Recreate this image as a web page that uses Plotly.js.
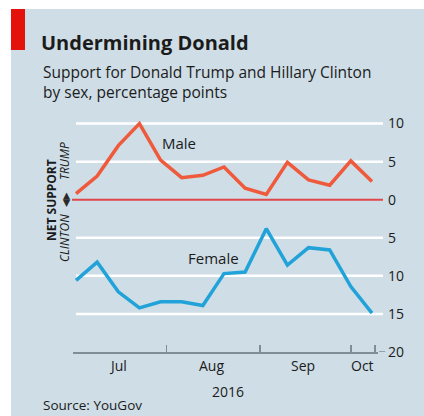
<!DOCTYPE html>
<html><head><meta charset="utf-8">
<script src="https://cdn.plot.ly/plotly-3.0.1.min.js"></script>
<style>html,body{margin:0;padding:0;background:#fff;}#chart{width:424px;height:416px;}</style>
</head><body><div id="chart"></div>
<script>
// ---- data ----
const weeks = ['2016-07-02','2016-07-09','2016-07-16','2016-07-23','2016-07-30','2016-08-06','2016-08-13','2016-08-20','2016-08-27','2016-09-03','2016-09-10','2016-09-17','2016-09-24','2016-10-01','2016-10-08'];
const male   = [0.8, 3.1, 7.1, 10.0, 5.2, 2.9, 3.2, 4.3, 1.5, 0.7, 4.9, 2.6, 1.9, 5.1, 2.4];
const female = [-10.6, -8.2, -12.1, -14.2, -13.4, -13.4, -13.9, -9.7, -9.5, -3.8, -8.6, -6.3, -6.6, -11.4, -14.9];
const yTickVals = [10, 5, 0, -5, -10, -15, -20];
const yTickText = ['10', '5', '0', '5', '10', '15', '20'];
const gridVals = [10, 5, -5, -10, -15];
const monthStarts = ['2016-07-01','2016-08-01','2016-09-01','2016-10-01','2016-10-09'];
const monthLabelDates = ['2016-07-16','2016-08-16','2016-09-15','2016-10-05'];
const monthLabels = ['Jul','Aug','Sep','Oct'];

// ---- layout geometry ----
const WID = 424, HEI = 416;
const M = {l: 73, r: 46, t: 119, b: 64};
const PW = WID - M.l - M.r, PH = HEI - M.t - M.b;
const px = x => (x - M.l) / PW;
const py = y => (HEI - M.b - y) / PH;

const FONT = '"Open Sans", "Noto Sans", sans-serif';
const TXT = '#1b1b1b';
const BG = '#cedde6';
const AXIS = '#7f8d96';

const traces = [
  {x: weeks, y: male, type: 'scatter', mode: 'lines', name: 'Male',
   line: {color: '#ef5a3c', width: 3.5}, hoverinfo: 'x+y'},
  {x: weeks, y: female, type: 'scatter', mode: 'lines', name: 'Female',
   line: {color: '#21a3d9', width: 3.5}, hoverinfo: 'x+y'}
];

const annotations = [
  {text: 'Support for Donald Trump and Hillary Clinton<br>by sex, percentage points',
   xref: 'paper', yref: 'paper', x: px(41), y: py(82), xanchor: 'left', yanchor: 'middle',
   align: 'left', showarrow: false, font: {family: FONT, size: 15.5, color: TXT}},
  {text: 'Male', xref: 'paper', yref: 'paper', x: px(179), y: py(143), showarrow: false,
   xanchor: 'center', yanchor: 'middle', font: {family: FONT, size: 15, color: TXT}},
  {text: 'Female', xref: 'paper', yref: 'paper', x: px(213), y: py(258), showarrow: false,
   xanchor: 'center', yanchor: 'middle', font: {family: FONT, size: 15, color: TXT}},
  {text: '2016', xref: 'paper', yref: 'paper', x: px(228), y: py(391), showarrow: false,
   xanchor: 'center', yanchor: 'middle', font: {family: FONT, size: 14, color: TXT}},
  {text: 'Source: YouGov', xref: 'paper', yref: 'paper', x: px(41), y: py(405), showarrow: false,
   xanchor: 'left', yanchor: 'middle', font: {family: FONT, size: 13.5, color: TXT}},
  {text: '<b>NET SUPPORT</b>', textangle: -90, xref: 'paper', yref: 'paper', x: px(51), y: py(200),
   showarrow: false, xanchor: 'center', yanchor: 'middle', font: {family: FONT, size: 12, color: TXT}},
  {text: '<i>TRUMP</i>', textangle: -90, xref: 'paper', yref: 'paper', x: px(64), y: py(161),
   showarrow: false, xanchor: 'center', yanchor: 'middle', font: {family: FONT, size: 12, color: TXT}},
  {text: '<i>CLINTON</i>', textangle: -90, xref: 'paper', yref: 'paper', x: px(64), y: py(238),
   showarrow: false, xanchor: 'center', yanchor: 'middle', font: {family: FONT, size: 12, color: TXT}},
  {text: '\u25C0\u25B6', textangle: -90, xref: 'paper', yref: 'paper', x: px(65), y: py(200),
   showarrow: false, xanchor: 'center', yanchor: 'middle', font: {family: 'DejaVu Sans', size: 9.5, color: '#2a2a2a'}}
];
monthLabels.forEach((m, i) => annotations.push({
  text: m, xref: 'x', yref: 'paper', x: monthLabelDates[i], y: py(365), showarrow: false,
  xanchor: 'center', yanchor: 'middle', font: {family: FONT, size: 14, color: TXT}
}));

const shapes = [
  {type: 'rect', xref: 'paper', yref: 'paper', x0: px(11), x1: px(430), y0: py(9), y1: py(420),
   fillcolor: BG, line: {width: 0}, layer: 'below'},
  {type: 'rect', xref: 'paper', yref: 'paper', x0: px(11), x1: px(25), y0: py(9), y1: py(50),
   fillcolor: '#e3120b', line: {width: 0}, layer: 'below'}
];
gridVals.forEach(v => shapes.push({
  type: 'line', xref: 'paper', yref: 'y', x0: px(76), x1: px(383), y0: v, y1: v,
  line: {color: '#ffffff', width: 2.5}, layer: 'below'
}));
shapes.push({type: 'line', xref: 'paper', yref: 'y', x0: px(72), x1: px(383), y0: 0, y1: 0,
  line: {color: '#e0474c', width: 2}, layer: 'below'});
shapes.push({type: 'line', xref: 'paper', yref: 'y', x0: px(379), x1: px(385), y0: -20, y1: -20,
  line: {color: AXIS, width: 1.5}, layer: 'below'});

const layout = {
  width: WID, height: HEI, margin: M,
  paper_bgcolor: '#ffffff', plot_bgcolor: 'rgba(0,0,0,0)',
  showlegend: false,
  title: {text: '<b>Undermining Donald</b>', xref: 'container', yref: 'container',
          x: 41 / WID, xanchor: 'left', y: 1 - 43 / HEI, yanchor: 'middle',
          font: {family: FONT, size: 20, color: TXT}},
  xaxis: {type: 'date', range: ['2016-07-01', '2016-10-10'],
          tickvals: monthStarts, ticktext: monthStarts.map(() => ''),
          ticks: 'inside', ticklen: 7, tickwidth: 1.5, tickcolor: AXIS,
          showline: true, linecolor: AXIS, linewidth: 1.5,
          showgrid: false, zeroline: false, fixedrange: true},
  yaxis: {range: [-20, 10.6], side: 'right', tickvals: yTickVals, ticktext: yTickText,
          ticks: '', ticklabelstandoff: 9,
          tickfont: {family: FONT, size: 14, color: TXT},
          showgrid: false, zeroline: false,
          showline: false, fixedrange: true},
  annotations: annotations,
  shapes: shapes
};

Plotly.newPlot('chart', traces, layout, {displayModeBar: false, staticPlot: true});
</script>
</body></html>
